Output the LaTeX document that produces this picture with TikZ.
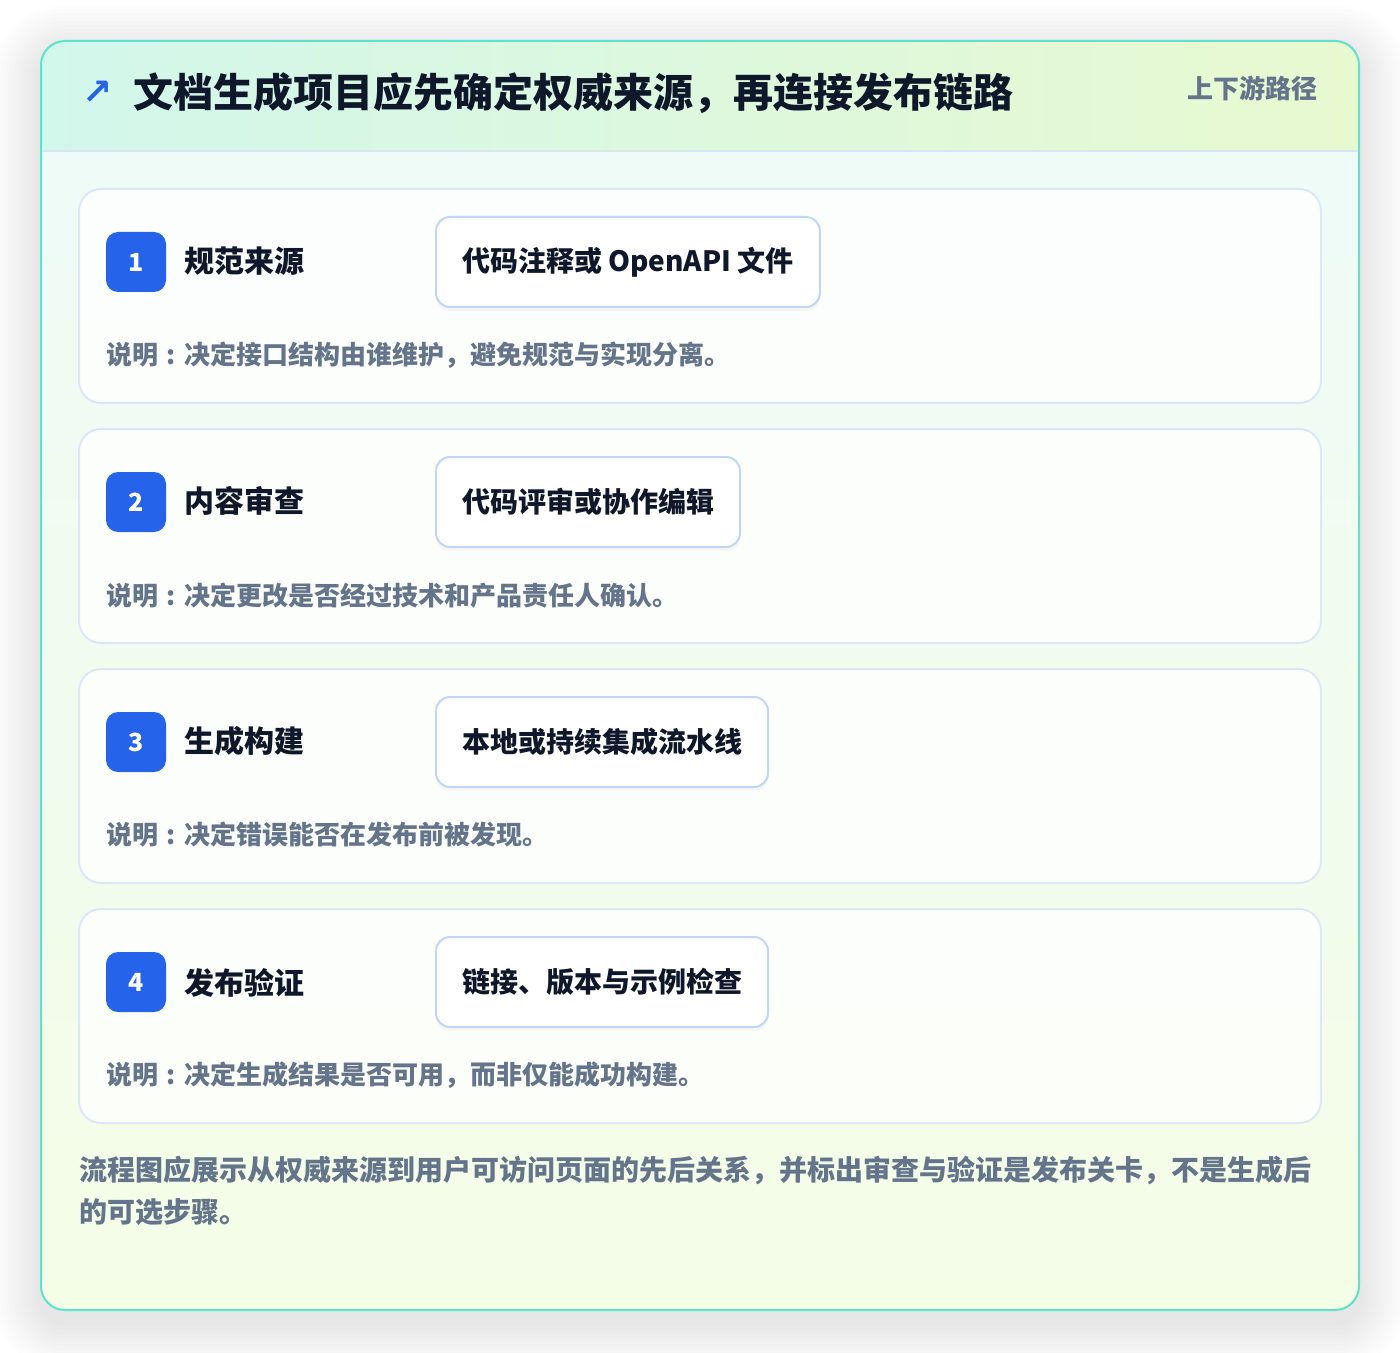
\documentclass[tikz,border=0pt]{standalone}
\usepackage{fontspec}
\setmainfont{Noto Sans CJK SC}
\newfontfamily\arrowfont{DejaVu Sans}
\usetikzlibrary{shadows}

\definecolor{panelline}{HTML}{5EE2CD}
\definecolor{headleft}{HTML}{D2F7EB}
\definecolor{headright}{HTML}{E8F9D0}
\definecolor{bodytop}{HTML}{EFFBF7}
\definecolor{bodybottom}{HTML}{F4FDE6}
\definecolor{headline}{HTML}{D8E6F3}
\definecolor{cardline}{HTML}{DCE8F8}
\definecolor{boxline}{HTML}{BFD6F6}
\definecolor{badgeblue}{HTML}{2563EB}
\definecolor{titledark}{HTML}{0F172A}
\definecolor{notegray}{HTML}{64748B}

% centred colon after the label
\newcommand{\notecolon}{\makebox[1em]{:}}

\tikzset{
  card/.style={draw=cardline, line width=1pt, fill=white, fill opacity=0.8, rounded corners=11pt, minimum width=621pt, minimum height=107pt},
  badge/.style={fill=badgeblue, rounded corners=6pt, minimum size=30pt, inner sep=0pt, text=white, font=\fontsize{12.5pt}{14pt}\selectfont\bfseries},
  steptitle/.style={anchor=west, inner sep=0pt, text=titledark, font=\fontsize{15pt}{18pt}\selectfont\bfseries},
  toolbox/.style={anchor=west, draw=boxline, line width=1pt, fill=white, rounded corners=7pt, minimum height=45pt, inner xsep=13pt, text=titledark, font=\fontsize{14pt}{17pt}\selectfont\bfseries, drop shadow={opacity=0.05, shadow xshift=0pt, shadow yshift=-2pt}},
  note/.style={anchor=west, inner sep=0pt, text=notegray, font=\fontsize{13pt}{16pt}\selectfont\bfseries},
  footnote/.style={anchor=west, inner sep=0pt, text=notegray, font=\fontsize{14pt}{17pt}\selectfont\bfseries},
}

\begin{document}
\begin{tikzpicture}[x=0.5pt,y=-0.5pt]
    \useasboundingbox[fill=white] (0,0) rectangle (1400,1352);
    % soft shadow round the panel
    \foreach \s in {4,8,...,48}
      \fill[black, opacity=0.006, rounded corners=12pt+0.5*\s pt] (41-\s,53-\s) rectangle (1359+\s,1322+\s);
    % panel
    \begin{scope}
      \clip[rounded corners=12pt] (41,41) rectangle (1359,1310);
      \shade[top color=bodytop, bottom color=bodybottom] (41,151) rectangle (1359,1310);
      \shade[left color=headleft, right color=headright] (41,41) rectangle (1359,151);
      \draw[headline, line width=1pt] (41,151) -- (1359,151);
    \end{scope}
    \draw[panelline, line width=1pt, rounded corners=12pt] (41,41) rectangle (1359,1310);

    \node[text=badgeblue, font=\arrowfont\fontsize{18pt}{20pt}\selectfont\bfseries] (arrow) at (98,93) {↗};
    \node[anchor=west, inner sep=0pt, text=titledark, font=\fontsize{20pt}{24pt}\selectfont\bfseries] (title) at (133,93) {文档生成项目应先确定权威来源，再连接发布链路};
    \node[anchor=east, inner sep=0pt, text=notegray, font=\fontsize{13pt}{16pt}\selectfont\bfseries] (tag) at (1318,88) {上下游路径};

    % step 1
    \node[card] (card1) at (700,296) {};
    \node[badge] (badge1) at (136,262) {1};
    \node[steptitle] (name1) at (184,261) {规范来源};
    \node[toolbox] (tool1) at (435,262) {代码注释或 OpenAPI 文件};
    \node[note] (note1) at (106,355) {说明\notecolon 决定接口结构由谁维护，避免规范与实现分离。};

    % step 2
    \node[card] (card2) at (700,536) {};
    \node[badge] (badge2) at (136,502) {2};
    \node[steptitle] (name2) at (184,501) {内容审查};
    \node[toolbox] (tool2) at (435,502) {代码评审或协作编辑};
    \node[note] (note2) at (106,596) {说明\notecolon 决定更改是否经过技术和产品责任人确认。};

    % step 3
    \node[card] (card3) at (700,776) {};
    \node[badge] (badge3) at (136,742) {3};
    \node[steptitle] (name3) at (184,741) {生成构建};
    \node[toolbox] (tool3) at (435,742) {本地或持续集成流水线};
    \node[note] (note3) at (106,835) {说明\notecolon 决定错误能否在发布前被发现。};

    % step 4
    \node[card] (card4) at (700,1016) {};
    \node[badge] (badge4) at (136,982) {4};
    \node[steptitle] (name4) at (184,983) {发布验证};
    \node[toolbox] (tool4) at (435,982) {链接、版本与示例检查};
    \node[note] (note4) at (106,1075) {说明\notecolon 决定生成结果是否可用，而非仅能成功构建。};

    \node[footnote] (foot1) at (79,1170) {流程图应展示从权威来源到用户可访问页面的先后关系，并标出审查与验证是发布关卡，不是生成后};
    \node[footnote] (foot2) at (79,1212) {的可选步骤。};
\end{tikzpicture}
\end{document}
